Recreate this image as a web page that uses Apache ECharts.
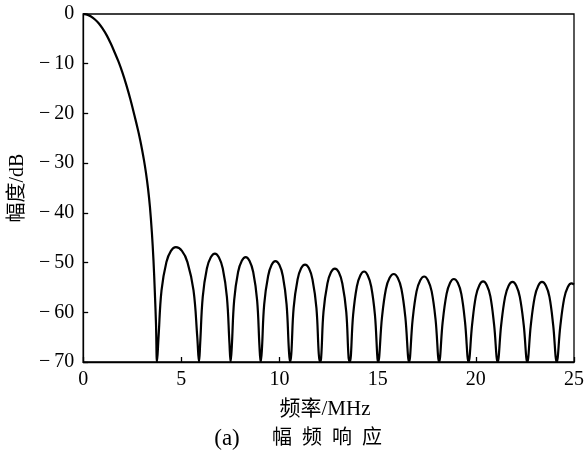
<!DOCTYPE html>
<html>
<head>
<meta charset="utf-8">
<script src="https://cdn.jsdelivr.net/npm/echarts@6/dist/echarts.min.js"></script>
<style>
html,body{margin:0;padding:0;background:#fff;}
#chart{width:587px;height:456px;}
</style>
</head>
<body>
<div id="chart"></div>
<script>
// Axis ticks
var xTicks = [0, 5, 10, 15, 20, 25];
var yTicks = [-70, -60, -50, -40, -30, -20, -10, 0];

// Magnitude response: [frequency MHz, magnitude dB]
var mainLobe = [[0,0],[0.2,-0.12],[0.4,-0.5],[0.6,-1.1],[0.8,-1.9],[1.0,-3.0],[1.2,-4.3],[1.4,-5.9],[1.6,-7.7],[1.8,-9.6],[2.0,-11.8],[2.2,-14.3],[2.4,-17.1],[2.6,-20.2],[2.8,-23.5],[2.9,-25.3],[3.0,-27.3],[3.1,-29.5],[3.2,-32.0],[3.3,-35.0],[3.4,-38.8],[3.5,-44.0],[3.58,-49.5],[3.65,-56],[3.71,-62.5],[3.76,-70]];
var lobe1 = [[3.84,-64.9],[3.99,-55.6],[4.24,-49.9],[4.47,-47.65],[4.72,-46.9],[5.03,-47.65],[5.31,-49.9],[5.62,-55.6],[5.81,-64.9],[5.90,-70]];
var lobe2 = [[5.96,-66.2],[6.09,-56.9],[6.30,-51.2],[6.50,-48.95],[6.71,-48.2],[6.91,-48.95],[7.11,-51.2],[7.32,-56.9],[7.45,-66.2],[7.51,-70]];
var lobe3 = [[7.57,-66.9],[7.69,-57.6],[7.89,-51.9],[8.08,-49.65],[8.28,-48.9],[8.47,-49.65],[8.66,-51.9],[8.86,-57.6],[8.98,-66.9],[9.04,-70]];
var lobe4 = [[9.10,-67.7],[9.22,-58.4],[9.42,-52.7],[9.60,-50.45],[9.79,-49.7],[9.99,-50.45],[10.17,-52.7],[10.36,-58.4],[10.48,-67.7],[10.54,-70]];
var lobe5 = [[10.60,-68.4],[10.72,-59.1],[10.92,-53.4],[11.10,-51.15],[11.30,-50.4],[11.50,-51.15],[11.68,-53.4],[11.88,-59.1],[12.00,-68.4],[12.06,-70]];
var lobe6 = [[12.12,-69.2],[12.24,-59.9],[12.44,-54.2],[12.62,-51.95],[12.82,-51.2],[13.02,-51.95],[13.20,-54.2],[13.40,-59.9],[13.52,-69.2],[13.58,-70]];
var lobe7 = [[13.75,-60.5],[13.94,-54.8],[14.12,-52.55],[14.31,-51.8],[14.49,-52.55],[14.67,-54.8],[14.86,-60.5],[15.03,-70]];
var lobe8 = [[15.22,-61.0],[15.42,-55.3],[15.61,-53.05],[15.82,-52.3],[16.02,-53.05],[16.21,-55.3],[16.41,-61.0],[16.60,-70]];
var lobe9 = [[16.78,-61.5],[16.98,-55.8],[17.17,-53.55],[17.37,-52.8],[17.56,-53.55],[17.75,-55.8],[17.95,-61.5],[18.13,-70]];
var lobe10 = [[18.31,-62.0],[18.51,-56.3],[18.69,-54.05],[18.88,-53.3],[19.08,-54.05],[19.26,-56.3],[19.45,-62.0],[19.63,-70]];
var lobe11 = [[19.81,-62.5],[20.00,-56.8],[20.18,-54.55],[20.37,-53.8],[20.56,-54.55],[20.74,-56.8],[20.93,-62.5],[21.11,-70]];
var lobe12 = [[21.29,-62.6],[21.49,-56.9],[21.67,-54.65],[21.87,-53.9],[22.06,-54.65],[22.24,-56.9],[22.44,-62.6],[22.62,-70]];
var lobe13 = [[22.80,-62.6],[23.00,-56.9],[23.18,-54.65],[23.37,-53.9],[23.57,-54.65],[23.75,-56.9],[23.94,-62.6],[24.12,-70]];
var lobe14 = [[24.30,-62.9],[24.50,-57.2],[24.68,-54.95],[24.87,-54.2],[25.0,-54.4]];

var xTitle = '频率/MHz';
var yTitle = '幅度/dB';
var captionTag = '(a)';
var captionText = '幅\u2002频\u2002响\u2002应';

var response = [].concat(mainLobe, lobe1, lobe2, lobe3, lobe4, lobe5, lobe6, lobe7,
  lobe8, lobe9, lobe10, lobe11, lobe12, lobe13, lobe14);

var serif = '"Liberation Serif","Times New Roman","Noto Sans CJK SC",serif';
var cjk = '"Liberation Serif","Noto Sans CJK SC",serif';

var chart = echarts.init(document.getElementById('chart'), null, {renderer: 'canvas'});
chart.setOption({
  animation: false,
  backgroundColor: '#fff',
  grid: {left: 81, right: 12, top: 14, bottom: 94, show: true, borderColor: '#000', borderWidth: 1.3, backgroundColor: 'transparent'},
  xAxis: {
    type: 'value', min: xTicks[0], max: xTicks[xTicks.length - 1], interval: 5,
    axisLine: {show: true, onZero: false, lineStyle: {color: '#000', width: 1.3}},
    axisTick: {show: true, inside: true, length: 5, lineStyle: {color: '#000', width: 1.3}},
    axisLabel: {color: '#000', fontFamily: serif, fontSize: 20, margin: 8},
    splitLine: {show: false}
  },
  yAxis: {
    type: 'value', min: yTicks[0], max: yTicks[yTicks.length - 1], interval: 10,
    axisLine: {show: true, onZero: false, lineStyle: {color: '#000', width: 1.3}},
    axisTick: {show: true, inside: true, length: 5, lineStyle: {color: '#000', width: 1.3}},
    axisLabel: {color: '#000', fontFamily: serif, fontSize: 20, margin: 9,
      formatter: function (v) { return v < 0 ? '\u2212\u2009' + Math.abs(v) : String(v); }},
    splitLine: {show: false},
    name: yTitle, nameLocation: 'middle', nameRotate: 90, nameGap: 49,
    nameTextStyle: {color: '#000', fontFamily: cjk, fontSize: 20}
  },
  graphic: [
    {type: 'text', x: 325, y: 409, style: {text: xTitle, fill: '#000', font: '21px ' + cjk, textAlign: 'center', textVerticalAlign: 'middle'}},
    {type: 'text', x: 227, y: 439, style: {text: captionTag, fill: '#000', font: '23px ' + serif, textAlign: 'center', textVerticalAlign: 'middle'}},
    {type: 'text', x: 327, y: 439, style: {text: captionText, fill: '#000', font: '20px ' + cjk, textAlign: 'center', textVerticalAlign: 'middle'}}
  ],
  series: [{
    type: 'line', data: response, showSymbol: false, smooth: 0.4, clip: true,
    lineStyle: {color: '#000', width: 2.2}
  }]
});
</script>
</body>
</html>
